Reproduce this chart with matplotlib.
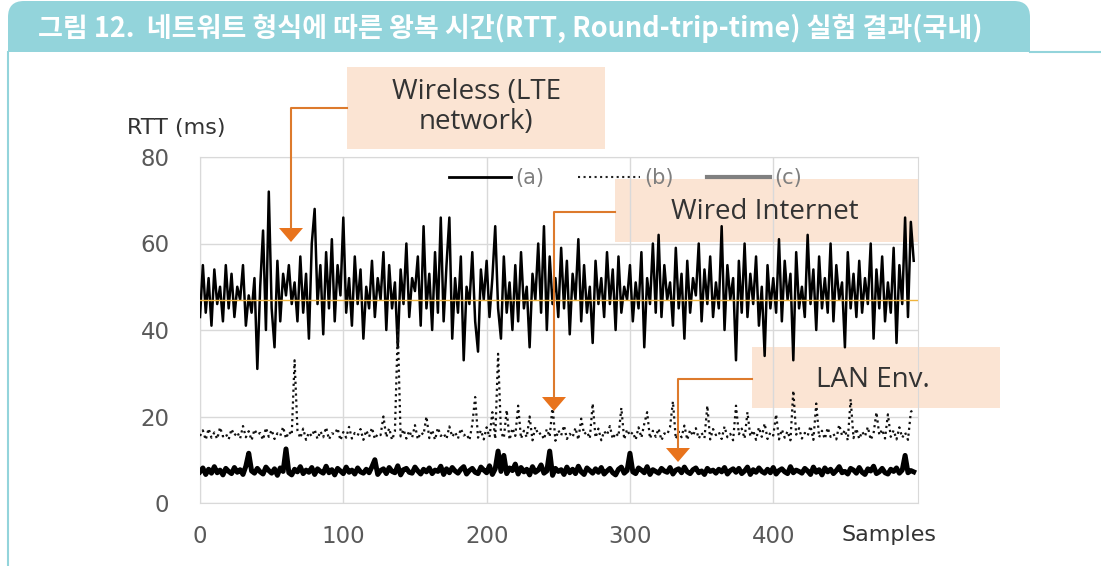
import numpy as np
import matplotlib
matplotlib.use("Agg")
import matplotlib.pyplot as plt
from matplotlib.patches import FancyBboxPatch, Rectangle, Polygon

plt.rcParams['font.family'] = ['Open Sans', 'DejaVu Sans']

# (a) wireless LTE network, RTT in ms, one value every 2 samples
rtt_a = [
    43, 55, 44, 52, 41, 54, 46, 50, 42, 55,
    45, 53, 43, 50, 47, 55, 41, 48, 44, 52,
    31, 50, 63, 40, 72, 45, 36, 56, 42, 53,
    48, 55, 46, 51, 42, 57, 44, 53, 38, 60,
    68, 46, 55, 39, 58, 45, 61, 42, 55, 48,
    66, 44, 52, 41, 57, 46, 54, 38, 50, 45,
    56, 43, 52, 47, 58, 40, 55, 45, 51, 36,
    54, 46, 60, 43, 52, 49, 57, 41, 64, 45,
    53, 40, 58, 44, 66, 42, 55, 66, 38, 52,
    44, 57, 33, 50, 46, 58, 42, 35, 54, 47,
    56, 43, 52, 64, 45, 38, 57, 44, 51, 40,
    55, 42, 58, 45, 50, 36, 53, 47, 60, 44,
    64, 40, 57, 46, 52, 43, 59, 45, 56, 39,
    53, 47, 61, 42, 55, 44, 50, 37, 56, 46,
    52, 43, 58, 46, 54, 40, 57, 44, 50, 47,
    55, 42, 51, 45, 58, 36, 52, 46, 60, 44,
    62, 43, 55, 47, 51, 41, 59, 45, 53, 38,
    56, 44, 52, 48, 60, 42, 54, 46, 57, 43,
    51, 45, 64, 40, 55, 47, 52, 33, 56, 44,
    60, 43, 53, 46, 57, 41, 50, 34, 55, 45,
    52, 44, 61, 42, 56, 47, 53, 33, 58, 45,
    50, 43, 62, 46, 54, 40, 57, 45, 52, 44,
    60, 42, 55, 47, 51, 36, 58, 45, 53, 43,
    56, 44, 52, 46, 60, 38, 54, 45, 57, 42,
    51, 44, 59, 37, 55, 46, 66, 43, 65, 56,
]

# (b) wired internet
rtt_b = [
    15.5, 16.8, 14.6, 17.2, 15.1, 16.3, 14.8, 17.5, 15.4, 16.0,
    14.7, 17.1, 15.6, 16.4, 14.9, 17.8, 15.2, 16.6, 14.5, 17.0,
    15.8, 16.2, 14.6, 17.4, 15.3, 16.9, 14.8, 16.1, 15.5, 17.6,
    14.9, 16.5, 15.7, 33.0, 16.8, 15.0, 17.2, 14.6, 16.3, 15.4,
    17.0, 14.8, 16.6, 15.2, 17.5, 14.7, 16.1, 15.9, 17.3, 14.5,
    16.4, 15.1, 17.6, 14.9, 16.2, 15.6, 17.1, 14.6, 16.8, 15.3,
    17.4, 14.8, 16.0, 15.7, 20.0, 15.2, 17.3, 14.6, 16.5, 40.0,
    15.4, 17.0, 14.9, 16.7, 15.1, 18.0, 14.7, 16.3, 15.8, 20.0,
    15.0, 16.9, 14.6, 17.4, 15.5, 16.1, 14.8, 17.7, 15.3, 16.4,
    14.9, 17.2, 15.6, 16.0, 14.5, 18.2, 24.5, 15.1, 16.8, 14.7,
    17.5, 15.2, 21.0, 14.8, 34.5, 16.3, 15.0, 21.5, 14.6, 17.3,
    15.5, 22.5, 14.9, 16.7, 15.2, 20.0, 14.5, 17.6, 15.8, 16.2,
    14.7, 17.1, 15.3, 22.5, 14.4, 16.8, 15.6, 17.9, 14.8, 16.0,
    15.2, 17.4, 14.6, 19.5, 15.9, 16.5, 14.9, 23.0, 15.1, 17.2,
    14.5, 16.6, 15.7, 17.8, 14.8, 16.2, 15.4, 22.0, 14.7, 17.0,
    15.6, 16.4, 14.6, 17.5, 15.1, 18.3, 21.0, 14.9, 16.7, 15.3,
    17.2, 14.5, 16.1, 15.8, 17.6, 23.5, 14.8, 16.5, 15.2, 17.9,
    14.6, 16.9, 15.5, 17.3, 14.9, 16.2, 15.0, 22.5, 14.7, 17.1,
    15.7, 16.4, 14.8, 17.7, 15.2, 16.0, 14.5, 22.5, 15.9, 17.2,
    14.9, 21.0, 15.4, 16.8, 14.6, 17.5, 15.3, 18.4, 14.8, 16.3,
    15.6, 20.5, 14.7, 17.0, 15.1, 16.6, 14.5, 26.0, 15.8, 17.3,
    14.9, 16.2, 15.5, 17.8, 14.6, 23.0, 15.2, 16.7, 14.8, 17.4,
    15.3, 16.0, 14.7, 18.1, 15.6, 16.9, 14.5, 24.0, 15.0, 17.2,
    14.8, 16.5, 15.4, 17.6, 14.6, 16.1, 21.0, 15.7, 17.0, 14.9,
    20.5, 15.3, 16.8, 14.7, 17.5, 15.1, 16.3, 14.6, 21.0, 22.0,
]

# (c) LAN environment
rtt_c = [
    7.2, 8.1, 6.6, 7.8, 6.9, 8.4, 7.0, 7.6, 6.5, 8.0,
    7.3, 6.8, 8.2, 7.1, 7.7, 6.6, 8.5, 11.5, 7.4, 6.9,
    8.0, 7.2, 6.7, 8.3, 7.5, 6.9, 7.9, 6.4, 8.1, 7.3,
    12.5, 7.0, 6.5, 7.8, 7.2, 8.4, 6.8, 7.6, 7.1, 8.2,
    6.6, 7.9, 7.3, 6.9, 8.5, 7.0, 7.7, 6.5, 8.0, 7.4,
    6.8, 8.3, 7.1, 7.6, 6.7, 8.1, 7.2, 6.9, 7.8, 7.0,
    8.4, 10.0, 6.6, 7.5, 7.9, 6.8, 8.2, 7.3, 7.0, 8.6,
    6.5, 7.7, 8.0, 7.1, 6.9, 8.3, 7.4, 6.7, 7.8, 7.2,
    8.1, 6.8, 7.6, 7.3, 8.5, 6.6, 7.9, 7.0, 8.2, 7.4,
    6.9, 7.8, 8.4, 6.7, 7.5, 8.0, 7.1, 6.8, 8.3, 7.6,
    7.0, 8.6, 6.6, 7.9, 12.0, 7.3, 11.0, 6.8, 8.1, 7.5,
    9.0, 6.7, 8.2, 7.2, 7.8, 6.5, 8.4, 7.1, 7.6, 8.8,
    6.9, 7.4, 12.0, 6.4, 8.0, 7.3, 7.7, 6.6, 8.3, 7.0,
    7.8, 6.8, 8.5, 7.2, 6.6, 8.1, 7.5, 6.9, 7.9, 7.1,
    8.2, 6.7, 7.4, 8.0, 7.0, 6.5, 7.8, 8.3, 6.9, 7.5,
    11.5, 7.2, 6.8, 8.1, 7.6, 7.0, 8.4, 6.6, 7.7, 7.3,
    6.9, 8.0, 7.4, 7.1, 8.2, 6.7, 7.6, 7.9, 7.0, 8.3,
    7.2, 6.8, 7.7, 8.1, 7.0, 7.4, 6.6, 8.0, 7.3, 7.6,
    6.9, 7.8, 7.2, 8.2, 6.7, 7.5, 7.9, 7.1, 8.0, 6.8,
    7.4, 8.3, 6.6, 7.7, 7.1, 8.1, 7.3, 6.9, 7.8, 7.0,
    8.2, 6.7, 7.5, 7.9, 7.2, 6.8, 8.4, 7.0, 7.6, 7.3,
    6.9, 8.0, 7.4, 6.6, 8.3, 7.1, 7.7, 6.5, 8.1, 7.2,
    7.8, 6.8, 7.5, 8.4, 7.0, 7.3, 6.7, 8.0, 7.6, 6.9,
    8.2, 7.1, 6.6, 7.9, 7.4, 8.5, 6.8, 7.2, 8.0, 7.0,
    6.7, 7.8, 7.3, 8.1, 6.9, 7.6, 11.0, 7.0, 7.5, 7.2,
]

mean_a = 47
series_names = ['(a)', '(b)', '(c)']
x_ticks = [0, 100, 200, 300, 400]
y_ticks = [0, 20, 40, 60, 80]
title = '그림 12.  네트워트 형식에 따른 왕복 시간(RTT, Round-trip-time) 실험 결과(국내)'

W, H = 1101, 566
fig = plt.figure(figsize=(W / 100, H / 100), dpi=100)

# background layer in pixel coords
bg = fig.add_axes([0, 0, 1, 1], zorder=0)
bg.set_xlim(0, W)
bg.set_ylim(H, 0)
bg.axis('off')

teal = '#93d4db'
bg.add_patch(FancyBboxPatch((8, 1), 1022, 51, boxstyle='round,pad=0,rounding_size=16',
                            fc=teal, ec='none'))
bg.add_patch(Rectangle((8, 26), 1022, 26, fc=teal, ec='none'))
bg.plot([8, 8], [52, H], color=teal, lw=1.5)
bg.plot([1030, W], [52, 52], color=teal, lw=1.5)
bg.text(38, 28, title, color='white', fontsize=19.5, fontweight='bold',
        family=['Noto Sans CJK KR', 'DejaVu Sans'], va='center', ha='left')

peach = '#fbe2cf'
boxes = [(347, 67, 258, 82), (615, 179, 303, 63), (752, 347, 248, 61)]
for bx, by, bw, bh in boxes:
    bg.add_patch(Rectangle((bx, by), bw, bh, fc=peach, ec='none', alpha=0.9))

# main chart
ax = fig.add_axes([200 / W, 1 - 503 / H, 718 / W, 346 / H], zorder=1)
ax.patch.set_alpha(0)
x = np.arange(len(rtt_a)) * 2
ax.plot(x, rtt_a, color='black', lw=1.8, zorder=3)
ax.plot(x, rtt_b, color='#111111', lw=1.6, ls=':', zorder=3)
ax.plot(x, rtt_c, color='black', lw=3.6, zorder=3)
ax.axhline(mean_a, color='#f0b43c', lw=1.0, zorder=4)
ax.set_xlim(0, 501)
ax.set_ylim(0, 80)
ax.set_xticks(x_ticks)
ax.set_yticks(y_ticks)
ax.grid(True, color='#d9d9d9', lw=1.0)
ax.set_axisbelow(True)
for s in ax.spines.values():
    s.set_color('#d9d9d9')
ax.tick_params(length=0, labelsize=16.5, labelcolor='#595959')
for lab in ax.get_xticklabels() + ax.get_yticklabels():
    lab.set_family('DejaVu Sans')
ax.tick_params(axis='y', pad=22)
ax.tick_params(axis='x', pad=16)

# legend handles: (c) drawn in gray like the reference key
h_a, = ax.plot([], [], color='black', lw=2)
h_b, = ax.plot([], [], color='#222222', lw=1.5, ls=':')
h_c, = ax.plot([], [], color='#808080', lw=3)
leg = ax.legend([h_a, h_b, h_c], series_names, ncol=3, loc='center',
                bbox_to_anchor=(0.592, 0.939), frameon=False,
                prop={'family': 'DejaVu Sans', 'size': 15},
                handlelength=3.0, handletextpad=0.2, columnspacing=1.6,
                labelcolor='#7f7f7f')

# overlay layer: arrows and labels
top = fig.add_axes([0, 0, 1, 1], zorder=2)
top.set_xlim(0, W)
top.set_ylim(H, 0)
top.axis('off')
top.patch.set_alpha(0)

orange = '#dd7a2c'
arrows = [((347, 108), 291, 228), ((615, 212), 554, 397), ((752, 379), 678, 448)]
for (sx, sy), ax_x, ty in arrows:
    top.plot([sx, ax_x, ax_x], [sy, sy, ty], color=orange, lw=1.5)
    top.add_patch(Polygon([(ax_x - 12, ty), (ax_x + 12, ty), (ax_x, ty + 14)],
                          closed=True, fc='#e8731c', ec='none'))

label_kw = dict(fontsize=20, color='#333333', ha='center', va='center')
top.text(476, 107, 'Wireless (LTE\nnetwork)', linespacing=1.1, **label_kw)
top.text(765, 212, 'Wired Internet', **label_kw)
top.text(873, 380, 'LAN Env.', **label_kw)
axis_kw = dict(fontsize=16, color='#333333', ha='center', va='center', family='DejaVu Sans')
top.text(176, 128, 'RTT (ms)', **axis_kw)
top.text(889, 535, 'Samples', **axis_kw)

fig.savefig('out.png', dpi=100)
